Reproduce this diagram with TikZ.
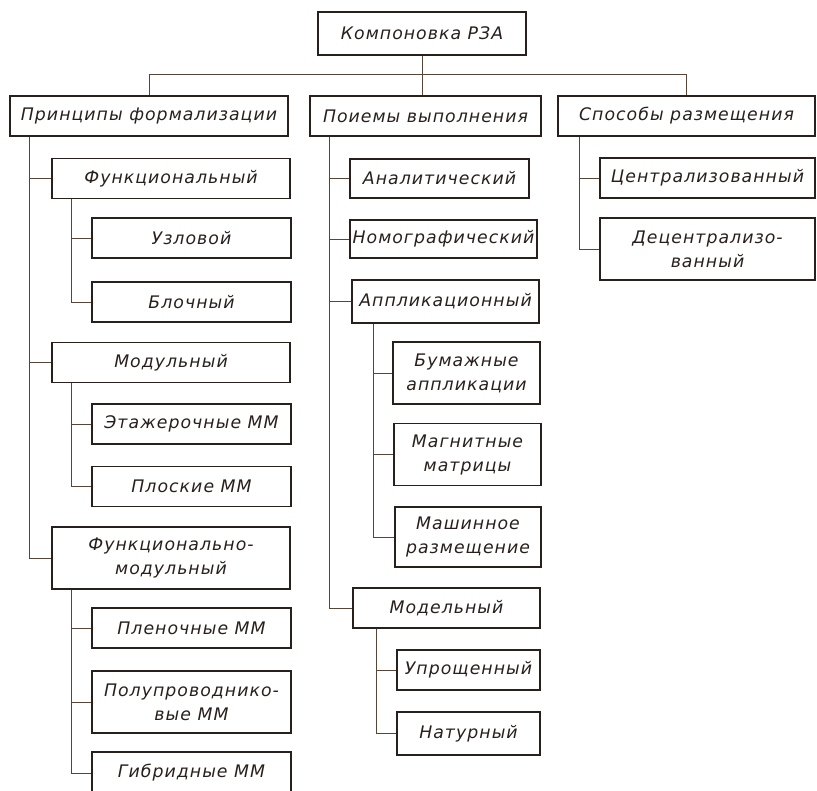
\documentclass[tikz,border=0pt]{standalone}
\usepackage{fontspec}
\usetikzlibrary{positioning}
\usetikzlibrary{calc}
\newfontfamily\gostfont{DejaVu Sans}[LetterSpace=6]
\definecolor{ink}{RGB}{40,32,28}
\definecolor{wire}{RGB}{85,70,55}

\begin{document}
\begin{tikzpicture}[
        x=1pt, y=-1pt,
        blk/.style={rectangle, draw=ink, line width=1.5pt, fill=white, inner sep=0pt, minimum height=40pt, align=center,
                    font=\gostfont\itshape\fontsize{17.3}{24}\selectfont, text=ink},
        two/.style={minimum height=62pt},
        link/.style={draw=wire, line width=0.7pt},
        ]
            \useasboundingbox (0,0) rectangle (817,791);

            % top level
            \node[blk, minimum width=208pt, minimum height=43pt] (R0) at (422,33.5) {Компоновка РЗА};
            \node[blk, minimum width=278pt] (P0) at (149,116) {Принципы формализации};
            \node[blk, minimum width=231pt] (Q0) at (425.5,116) {Поиемы выполнения};
            \node[blk, minimum width=257pt] (S0) at (686.5,116) {Способы размещения};

            % principles
            \node[blk, minimum width=238pt] (P1) at (171,178.5) {Функциональный};
            \node[blk, minimum width=199pt] (P11) at (191.5,238) {Узловой};
            \node[blk, minimum width=199pt] (P12) at (191.5,302) {Блочный};
            \node[blk, minimum width=238pt] (P2) at (171,362.5) {Модульный};
            \node[blk, minimum width=199pt] (P21) at (191.5,424) {Этажерочные ММ};
            \node[blk, minimum width=199pt] (P22) at (191.5,486.5) {Плоские ММ};
            \node[blk, two, minimum width=238pt] (P3) at (171,558) {Функционально-\\модульный};
            \node[blk, minimum width=199pt] (P31) at (191.5,628) {Пленочные ММ};
            \node[blk, two, minimum width=199pt] (P32) at (191.5,702) {Полупроводнико-\\вые ММ};
            \node[blk, minimum width=199pt, minimum height=42pt] (P33) at (191.5,773) {Гибридные ММ};

            % methods
            \node[blk, minimum width=179pt, minimum height=39pt] (Q1) at (439.5,178.5) {Аналитический};
            \node[blk, minimum width=187pt, minimum height=38pt] (Q2) at (443.5,239) {Номографический};
            \node[blk, minimum width=187pt, minimum height=43pt] (Q3) at (445.5,301.5) {Аппликационный};
            \node[blk, two, minimum width=147pt] (Q31) at (466.5,373) {Бумажные\\аппликации};
            \node[blk, two, minimum width=147pt] (Q32) at (467.5,454.5) {Магнитные\\матрицы};
            \node[blk, two, minimum width=146pt, minimum height=60pt] (Q33) at (468,537) {Машинное\\размещение};
            \node[blk, minimum width=187pt] (Q4) at (446.5,608) {Модельный};
            \node[blk, minimum width=143pt] (Q41) at (468.5,670) {Упрощенный};
            \node[blk, minimum width=143pt, minimum height=43pt] (Q42) at (468.5,733.5) {Натурный};

            % placement
            \node[blk, minimum width=215pt] (S1) at (707.5,178) {Централизованный};
            \node[blk, two, minimum width=215pt] (S2) at (707.5,249) {Децентрализо-\\ванный};

            % connectors
            \coordinate (bus) at ($(R0.south)+(0,19)$);
            \draw[link] (R0.south) -- (R0.south |- Q0.north);
            \draw[link] (P0.north) |- (bus) -| (S0.north);
            \foreach \c in {P1,P2,P3}
                \draw[link] ([xshift=20pt]P0.south west) |- (\c.west);
            \foreach \c in {P11,P12}
                \draw[link] ([xshift=20pt]P1.south west) |- (\c.west);
            \foreach \c in {P21,P22}
                \draw[link] ([xshift=20pt]P2.south west) |- (\c.west);
            \foreach \c in {P31,P32,P33}
                \draw[link] ([xshift=20pt]P3.south west) |- (\c.west);
            \foreach \c in {Q1,Q2,Q3,Q4}
                \draw[link] ([xshift=20pt]Q0.south west) |- (\c.west);
            \foreach \c in {Q31,Q32,Q33}
                \draw[link] ([xshift=22pt]Q3.south west) |- (\c.west);
            \foreach \c in {Q41,Q42}
                \draw[link] ([xshift=24pt]Q4.south west) |- (\c.west);
            \foreach \c in {S1,S2}
                \draw[link] ([xshift=22pt]S0.south west) |- (\c.west);
        \end{tikzpicture}
\end{document}
